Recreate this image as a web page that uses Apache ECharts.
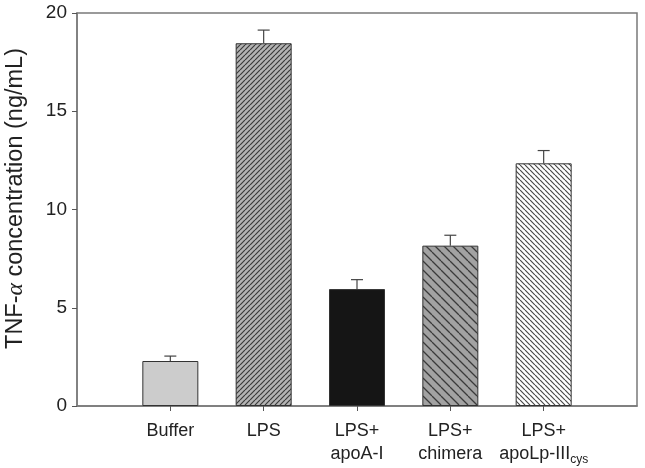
<!DOCTYPE html>
<html>
<head>
<meta charset="utf-8">
<script src="https://cdn.jsdelivr.net/npm/echarts@6/dist/echarts.min.js"></script>
<style>html,body{margin:0;padding:0;background:#fff}#c{width:645px;height:468px}</style>
</head>
<body>
<div id="c"></div>
<script>
const categories = ['Buffer', 'LPS', 'LPS+\napoA-I', 'LPS+\nchimera', 'LPS+\napoLp-III{sub|cys}'];
const values = [2.29, 18.46, 5.95, 8.16, 12.35];
const errors = [0.25, 0.67, 0.48, 0.53, 0.65];
const yMin = 0, yMax = 20, yStep = 5;

function hatch(size, bg, fg, lw, dir) {
  const c = document.createElement('canvas');
  c.width = size; c.height = size;
  const g = c.getContext('2d');
  g.fillStyle = bg; g.fillRect(0, 0, size, size);
  g.strokeStyle = fg; g.lineWidth = lw;
  g.beginPath();
  for (let k = -1; k <= 1; k++) {
    if (dir === '/') { g.moveTo(k * size, size); g.lineTo(k * size + size, 0); }
    else { g.moveTo(k * size, 0); g.lineTo(k * size + size, size); }
  }
  g.stroke();
  return { image: c, repeat: 'repeat' };
}

const fills = [
  '#cccccc',
  hatch(5, '#b4b4b4', '#3a3a3a', 1.2, '/'),
  '#151515',
  hatch(9, '#a2a2a2', '#3a3a3a', 1.3, '\\'),
  hatch(5, '#ffffff', '#4a4a4a', 1.2, '\\')
];

const axisCats = [''].concat(categories, ['']);
const barData = ['-'].concat(values.map((v, i) => ({
  value: v,
  itemStyle: { color: fills[i], borderColor: '#333', borderWidth: 1 }
})), ['-']);
const errData = values.map((v, i) => [i + 1, v, errors[i]]);

const chart = echarts.init(document.getElementById('c'));
chart.setOption({
  animation: false,
  grid: { left: 77, right: 8, top: 13, bottom: 62, outerBoundsMode: 'none', containLabel: false, show: true, borderColor: '#7a7a7a', borderWidth: 1.5, backgroundColor: 'transparent' },
  xAxis: {
    type: 'category',
    data: axisCats,
    boundaryGap: false,
    axisLine: { lineStyle: { color: '#7a7a7a', width: 1.5 } },
    axisTick: { show: true, length: 5, interval: (i) => i > 0 && i < axisCats.length - 1, lineStyle: { color: '#555' } },
    axisLabel: {
      interval: 0, margin: 14, fontFamily: 'Liberation Sans, Arial', fontSize: 18, color: '#222', lineHeight: 23,
      rich: { sub: { fontSize: 12, fontFamily: 'Liberation Sans, Arial', color: '#222', verticalAlign: 'bottom', padding: [8, 0, 0, 0] } }
    },
    splitLine: { show: false }
  },
  yAxis: {
    type: 'value', min: yMin, max: yMax, interval: yStep,
    name: 'TNF-{a|α} concentration (ng/mL)',
    nameLocation: 'middle', nameGap: 49, nameRotate: 90,
    nameTextStyle: { fontFamily: 'Liberation Sans, Arial', fontSize: 23.5, color: '#222', padding: [0, 0, 0, 22],
      rich: { a: { fontFamily: 'Liberation Serif, serif', fontStyle: 'italic', fontSize: 23.5, color: '#222' } } },
    axisLine: { show: true, lineStyle: { color: '#7a7a7a', width: 1.5 } },
    axisTick: { show: true, length: 5, lineStyle: { color: '#555' } },
    axisLabel: { fontFamily: 'Liberation Sans, Arial', fontSize: 19, color: '#222', margin: 10 },
    splitLine: { show: false }
  },
  series: [
    { type: 'bar', data: barData, barWidth: 56, z: 2 },
    {
      type: 'custom', data: errData, z: 3,
      renderItem: function (params, api) {
        const x = api.value(0), v = api.value(1), e = api.value(2);
        const p0 = api.coord([x, v]);
        const p1 = api.coord([x, v + e]);
        const cap = 6;
        const st = { stroke: '#444', lineWidth: 1.2 };
        return { type: 'group', children: [
          { type: 'line', shape: { x1: p0[0], y1: p0[1], x2: p1[0], y2: p1[1] }, style: st },
          { type: 'line', shape: { x1: p1[0] - cap, y1: p1[1], x2: p1[0] + cap, y2: p1[1] }, style: st }
        ] };
      }
    }
  ]
});
</script>
</body>
</html>
